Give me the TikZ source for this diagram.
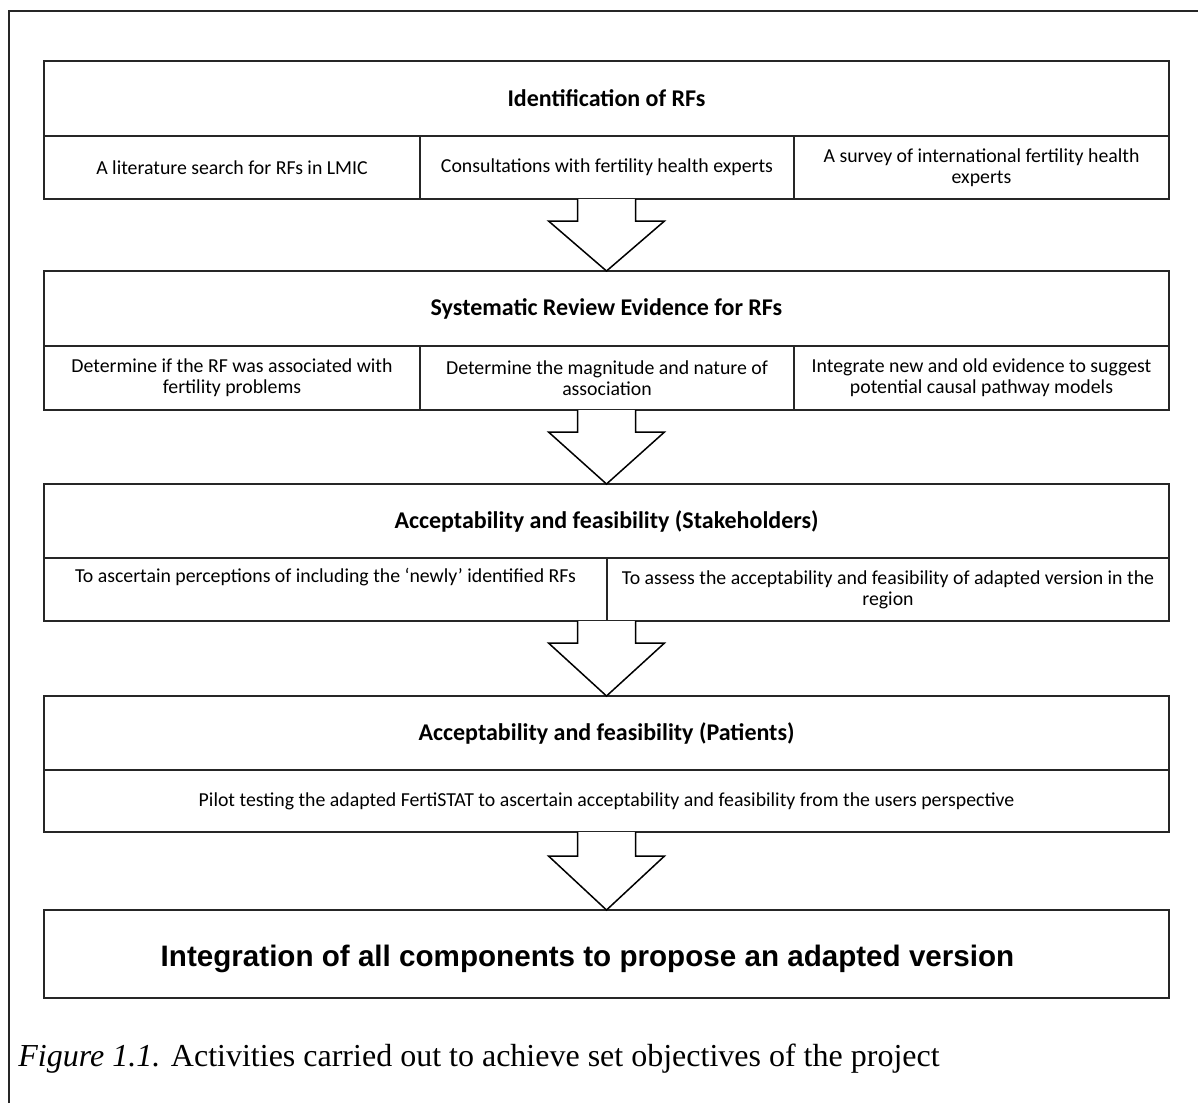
\documentclass[tikz,border=0pt]{standalone}
\usepackage{fontspec}
\setmainfont{Carlito}
\newfontfamily\capfont{Liberation Serif}
\newfontfamily\arialfont{Liberation Sans}
\usetikzlibrary{calc}
\tikzset{
  frame/.style={inner sep=0pt, outer sep=0pt},
  titlecell/.style={draw=black!85, line width=1pt, inner sep=0pt, outer sep=0pt, align=center,
    font=\fontsize{12}{14}\selectfont\bfseries},
  cell/.style={draw=black!85, line width=1pt, inner sep=0pt, outer sep=0pt, align=center,
    font=\fontsize{9.9}{10.5}\selectfont},
  bigarrow/.style={draw=black, line width=0.75pt, line join=miter, fill=white},
}
\newcommand\flowarrow[2]{%
  \draw[bigarrow] ([xshift=-14.5pt]#1.south) -- ([xshift=-14.5pt,yshift=-11pt]#1.south)
    -- ([xshift=-29pt,yshift=-11pt]#1.south) -- (#2.north)
    -- ([xshift=29pt,yshift=-11pt]#1.south) -- ([xshift=14.5pt,yshift=-11pt]#1.south)
    -- ([xshift=14.5pt]#1.south);}
\begin{document}
\begin{tikzpicture}[x=0.5pt,y=-0.5pt]
\useasboundingbox (0,0) rectangle (1198,1103);
% outer frame
\draw[line width=1pt, black!85] (9,1103) -- (9,11) -- (1198,11);

% Box 1
\node[frame, minimum width=562.5pt, minimum height=69pt] (f1) at (606.5,130) {};
\node[titlecell, minimum width=562.5pt, minimum height=37.5pt] (t1) at (606.5,98.5) {Identification of RFs};
\node[cell, minimum width=188pt, minimum height=31.5pt] (c11) at (232,167.5) {A literature search for RFs in LMIC};
\node[cell, minimum width=187pt, minimum height=31.5pt] (c12) at (607,167.5) {Consultations with fertility health experts};
\node[cell, minimum width=187.5pt, minimum height=31.5pt] (c13) at (981.5,167.5) {A survey of international fertility health\\experts};

% Box 2
\node[frame, minimum width=562.5pt, minimum height=69.5pt] (f2) at (606.5,340.5) {};
\node[titlecell, minimum width=562.5pt, minimum height=37.5pt] (t2) at (606.5,308.5) {Systematic Review Evidence for RFs};
\node[cell, minimum width=188pt, minimum height=32pt] (c21) at (232,378) {Determine if the RF was associated with\\fertility problems};
\node[cell, minimum width=187pt, minimum height=32pt] (c22) at (607,378) {Determine the magnitude and nature of\\association};
\node[cell, minimum width=187.5pt, minimum height=32pt] (c23) at (981.5,378) {Integrate new and old evidence to suggest\\potential causal pathway models};

% Box 3
\node[frame, minimum width=562.5pt, minimum height=68.5pt] (f3) at (606.5,552.5) {};
\node[titlecell, minimum width=562.5pt, minimum height=37pt] (t3) at (606.5,521) {Acceptability and feasibility (Stakeholders)};
\node[cell, minimum width=281.5pt, minimum height=31.5pt] (c31) at (325.5,589.5) {To ascertain perceptions of including the ‘newly’ identified RFs\\\strut};
\node[cell, minimum width=281pt, minimum height=31.5pt] (c32) at (888,589.5) {To assess the acceptability and feasibility of adapted version in the\\region};

% Box 4
\node[frame, minimum width=562.5pt, minimum height=68pt] (f4) at (606.5,764) {};
\node[titlecell, minimum width=562.5pt, minimum height=37pt] (t4) at (606.5,733) {Acceptability and feasibility (Patients)};
\node[cell, minimum width=562.5pt, minimum height=31pt] (c41) at (606.5,801) {Pilot testing the adapted FertiSTAT to ascertain acceptability and feasibility from the users perspective};

% Box 5
\node[draw=black!85, line width=1pt, inner sep=0pt, outer sep=0pt, minimum width=562.5pt, minimum height=44pt,
  text height=15.7pt, text depth=3.1pt,
  font=\arialfont\fontsize{14.8}{17}\selectfont\bfseries] (f5) at (606.5,954) {\hspace*{-19pt}Integration of all components to propose an adapted version};

% Arrows
\flowarrow{f1}{f2}
\flowarrow{f2}{f3}
\flowarrow{f3}{f4}
\draw[bigarrow] ([xshift=-14.5pt]f4.south) -- ([xshift=-14.5pt,yshift=-12pt]f4.south)
    -- ([xshift=-29pt,yshift=-12pt]f4.south) -- (f5.north)
    -- ([xshift=29pt,yshift=-12pt]f4.south) -- ([xshift=14.5pt,yshift=-12pt]f4.south)
    -- ([xshift=14.5pt]f4.south);

% Caption
\node[anchor=base west, inner sep=0pt, font=\capfont\fontsize{16}{19}\selectfont] (cap) at (18,1066)
  {\textit{Figure 1.1.} Activities carried out to achieve set objectives of the project};
\end{tikzpicture}
\end{document}
